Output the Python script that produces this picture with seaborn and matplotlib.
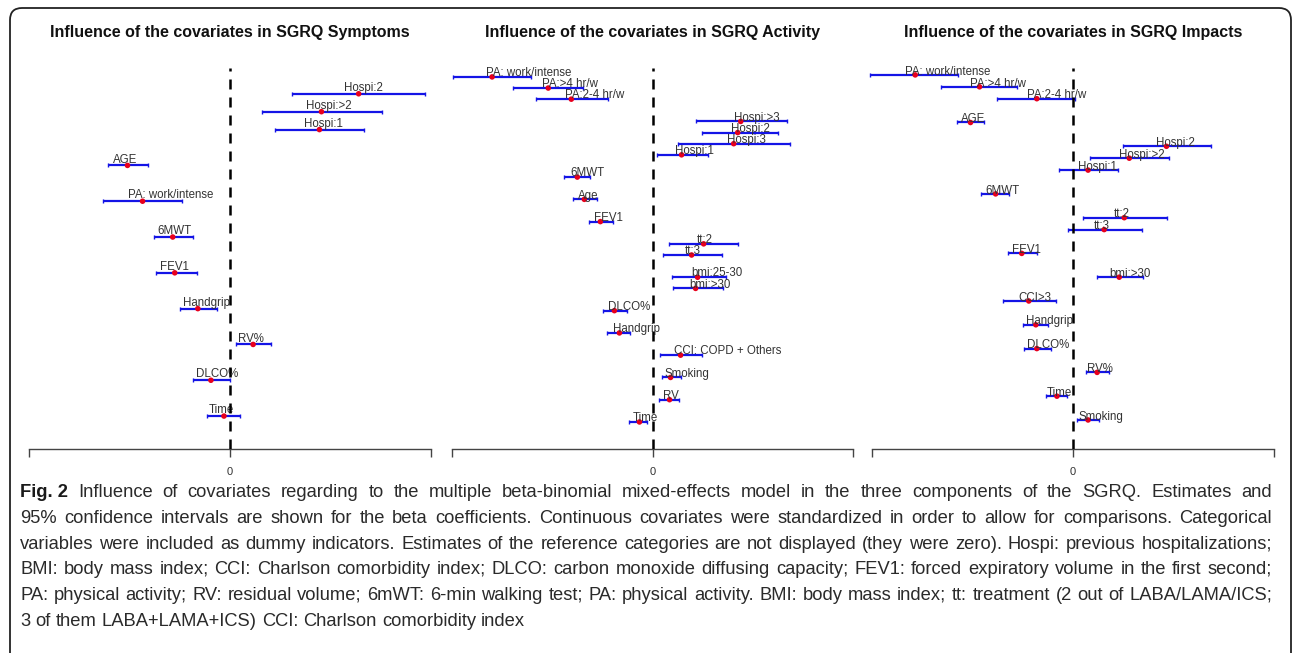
import numpy as np
import pandas as pd
import seaborn as sns
import matplotlib.pyplot as plt
import matplotlib.patches as mpatches
import matplotlib.transforms as mtransforms

# ============================================
# data (beta estimates, 95% CI, row position)
# ============================================
sym_labels = ['Hospi:2', 'Hospi:>2', 'Hospi:1', 'AGE', 'PA: work/intense', '6MWT',
              'FEV1', 'Handgrip', 'RV%', 'DLCO%', 'Time']
sym_est = [0.64, 0.455, 0.445, -0.51, -0.435, -0.285, -0.275, -0.16, 0.115, -0.095, -0.03]
sym_lo = [0.31, 0.16, 0.225, -0.605, -0.63, -0.38, -0.37, -0.25, 0.03, -0.185, -0.115]
sym_hi = [0.97, 0.755, 0.665, -0.41, -0.24, -0.185, -0.165, -0.065, 0.205, 0.0, 0.05]
sym_row = [19, 18, 17, 15, 13, 11, 9, 7, 5, 3, 1]

act_labels = ['PA: work/intense', 'PA:>4 hr/w', 'PA:2-4 hr/w', 'Hospi:>3', 'Hospi:2', 'Hospi:3',
              'Hospi:1', '6MWT', 'Age', 'FEV1', 'tt:2', 'tt:3', 'bmi:25-30', 'bmi:>30',
              'DLCO%', 'Handgrip', 'CCI: COPD + Others', 'Smoking', 'RV', 'Time']
act_est = [-0.8, -0.52, -0.405, 0.44, 0.425, 0.405, 0.145, -0.375, -0.34, -0.26, 0.255, 0.195,
           0.225, 0.215, -0.19, -0.165, 0.14, 0.09, 0.085, -0.065]
act_lo = [-0.995, -0.695, -0.58, 0.215, 0.245, 0.125, 0.02, -0.44, -0.395, -0.315, 0.08, 0.05,
          0.095, 0.1, -0.245, -0.225, 0.035, 0.045, 0.03, -0.115]
act_hi = [-0.605, -0.345, -0.22, 0.67, 0.625, 0.685, 0.275, -0.31, -0.275, -0.195, 0.425, 0.345,
          0.365, 0.35, -0.125, -0.11, 0.245, 0.14, 0.13, -0.025]
act_row = [32, 31, 30, 28, 27, 26, 25, 23, 21, 19, 17, 16, 14, 13, 11, 9, 7, 5, 3, 1]

imp_labels = ['PA: work/intense', 'PA:>4 hr/w', 'PA:2-4 hr/w', 'AGE', 'Hospi:2', 'Hospi:>2',
              'Hospi:1', '6MWT', 'tt:2', 'tt:3', 'FEV1', 'bmi:>30', 'CCI>3', 'Handgrip',
              'DLCO%', 'RV%', 'Time', 'Smoking']
imp_est = [-0.785, -0.465, -0.18, -0.51, 0.465, 0.28, 0.075, -0.385, 0.255, 0.155, -0.255, 0.23,
           -0.22, -0.185, -0.18, 0.12, -0.08, 0.075]
imp_lo = [-1.01, -0.655, -0.38, -0.575, 0.25, 0.085, -0.07, -0.46, 0.05, -0.025, -0.325, 0.12,
          -0.35, -0.25, -0.245, 0.065, -0.135, 0.02]
imp_hi = [-0.57, -0.28, 0.01, -0.445, 0.685, 0.48, 0.225, -0.32, 0.47, 0.345, -0.18, 0.35,
          -0.085, -0.125, -0.11, 0.18, -0.03, 0.13]
imp_row = [30, 29, 28, 26, 24, 23, 22, 20, 18, 17, 15, 13, 11, 9, 7, 5, 3, 1]

titles = ['Influence of the covariates in SGRQ Symptoms',
          'Influence of the covariates in SGRQ Activity',
          'Influence of the covariates in SGRQ Impacts']

caption_head = 'Fig. 2'
caption_lines = [
    'Influence of covariates regarding to the multiple beta-binomial mixed-effects model in the three components of the SGRQ. Estimates and',
    '95% confidence intervals are shown for the beta coefficients. Continuous covariates were standardized in order to allow for comparisons. Categorical',
    'variables were included as dummy indicators. Estimates of the reference categories are not displayed (they were zero). Hospi: previous hospitalizations;',
    'BMI: body mass index; CCI: Charlson comorbidity index; DLCO: carbon monoxide diffusing capacity; FEV1: forced expiratory volume in the first second;',
    'PA: physical activity; RV: residual volume; 6mWT: 6-min walking test; PA: physical activity. BMI: body mass index; tt: treatment (2 out of LABA/LAMA/ICS;',
    '3 of them LABA+LAMA+ICS) CCI: Charlson comorbidity index',
]

# ============================================
# style
# ============================================
sns.set_style('white')
plt.rcParams['font.family'] = ['Liberation Sans', 'DejaVu Sans']

W, H = 1293, 653
fig = plt.figure(figsize=(W / 100, H / 100), dpi=100)

# panel geometry in pixels: (left, right), ylim, label offset
panels = [
    (sym_labels, sym_est, sym_lo, sym_hi, sym_row, (29, 431), (-0.84, 20.44), (-10.8, 2.0)),
    (act_labels, act_est, act_lo, act_hi, act_row, (452, 853), (-1.43, 32.8), (-4.7, 0.6)),
    (imp_labels, imp_est, imp_lo, imp_hi, imp_row, (872, 1274), (-1.44, 30.58), (-7.2, 0.2)),
]
top_px, bot_px = 68, 449

for i, (labels, est, lo, hi, row, (lpx, rpx), ylim, (dx, dy)) in enumerate(panels):
    ax = fig.add_axes([lpx / W, (H - bot_px) / H, (rpx - lpx) / W, (bot_px - top_px) / H])
    ax.set_facecolor('none')
    df = pd.DataFrame({'label': labels, 'est': est, 'lo': lo, 'hi': hi, 'row': row})

    ax.errorbar(df['est'], df['row'], xerr=[df['est'] - df['lo'], df['hi'] - df['est']],
                fmt='none', ecolor='#1414e6', elinewidth=1.6, capsize=1.2, capthick=1.0,
                clip_on=False, zorder=2)
    sns.scatterplot(data=df, x='est', y='row', color='#e8001c', s=16, edgecolor='none',
                    ax=ax, zorder=3, clip_on=False, legend=False)
    for _, r in df.iterrows():
        ax.annotate(r['label'], xy=(r['est'], r['row']), xytext=(dx, dy),
                    textcoords='offset points', ha='left', va='baseline',
                    fontsize=8.3, color='#333333', zorder=4)

    ax.axvline(0, color='black', lw=1.8, dashes=(4, 3.2), zorder=5)

    ax.set_xlim(-1, 1)
    ax.set_ylim(*ylim)
    for s in ['left', 'top', 'right']:
        ax.spines[s].set_visible(False)
    ax.spines['bottom'].set_bounds(-1, 1)
    ax.spines['bottom'].set_color('#444444')
    ax.spines['bottom'].set_linewidth(1.0)
    ax.set_xticks([-1, 0, 1])
    ax.set_xticklabels(['', '0', ''])
    ax.tick_params(axis='x', direction='out', length=5.8, width=1.0, color='#444444',
                   labelsize=8, labelcolor='#333333', pad=7, bottom=True)
    ax.set_yticks([])
    ax.set_xlabel('')
    ax.set_ylabel('')

    zero_px = lpx + (rpx - lpx) / 2
    fig.text(zero_px / W, (H - 33) / H, titles[i], ha='center', va='center',
             fontsize=11.5, fontweight='bold', color='#111111')

# rounded frame around the figure panel
frame = mpatches.FancyBboxPatch((10, -30), 1281, H - 8 + 30,
                                boxstyle='round,pad=0,rounding_size=12',
                                transform=mtransforms.IdentityTransform(),
                                fill=False, edgecolor='#222222', lw=1.3)
fig.patches.append(frame)

# caption: justified lines between x = 20 and x = 1272 px, common baseline per line
line_base = [497, 523, 549, 574, 600, 626]
cap_left, cap_right = 20, 1272
cap_size = 13.2
renderer = fig.canvas.get_renderer()


def word_width(word, bold=False):
    t = fig.text(0, 0, word, fontsize=cap_size, fontweight='bold' if bold else 'normal')
    w = t.get_window_extent(renderer).width
    t.remove()
    return w


space_w = word_width('a b') - word_width('ab')
for k, line in enumerate(caption_lines):
    words = [(w, False) for w in line.split(' ')]
    if k == 0:
        # keep "Fig. 2" together as one bold word
        words = [(caption_head, True)] + words
    widths = [word_width(w, b) for w, b in words]
    last = k == len(caption_lines) - 1
    if last:
        gap = space_w
    else:
        gap = (cap_right - cap_left - sum(widths)) / (len(words) - 1)
    x = cap_left
    yf = (H - line_base[k]) / H
    for (w, b), wd in zip(words, widths):
        fig.text(x / W, yf, w, ha='left', va='baseline', fontsize=cap_size,
                 fontweight='bold' if b else 'normal',
                 color='#1a1a1a' if b else '#2a2a2a')
        x += wd + gap

plt.savefig('out.png', dpi=100)
plt.close()
